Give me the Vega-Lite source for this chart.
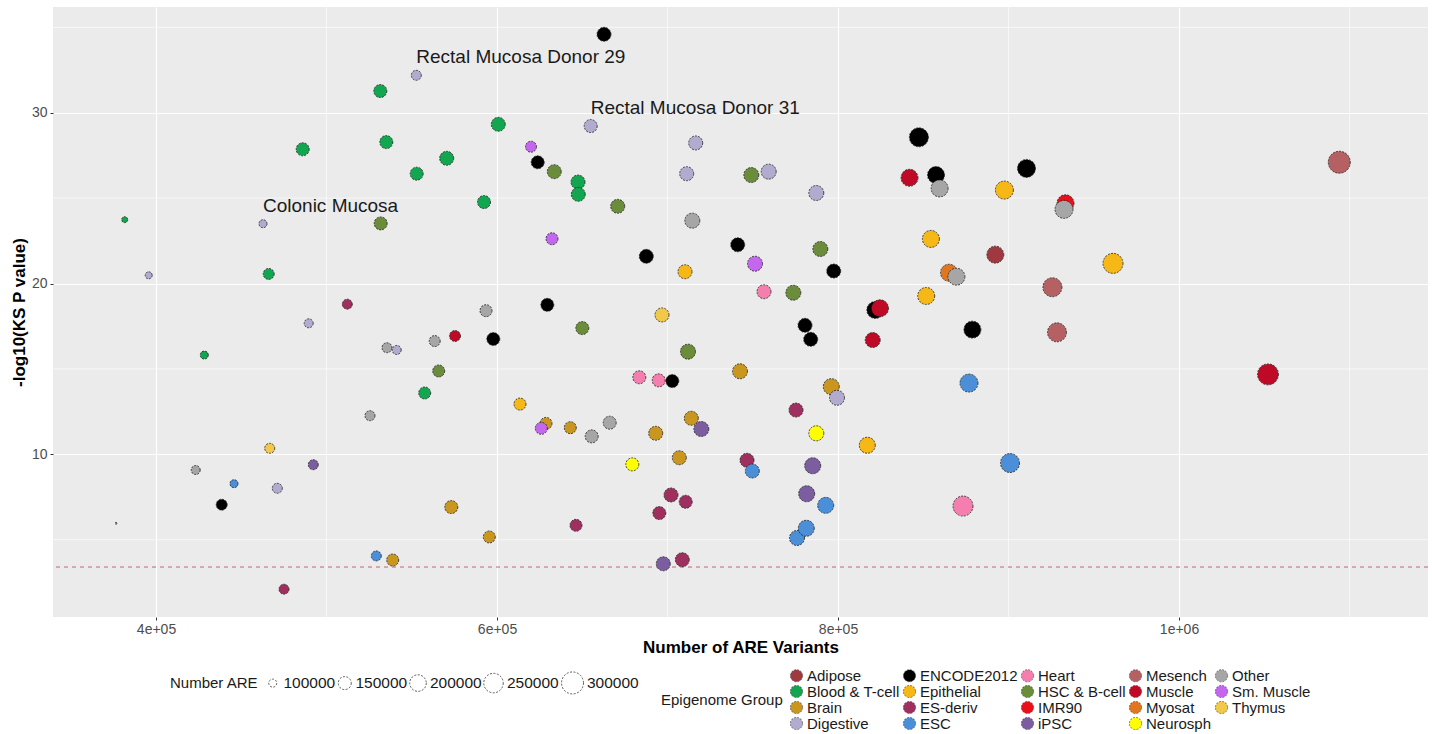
{
  "$schema": "https://vega.github.io/schema/vega-lite/v6.json",
  "width": 1375,
  "height": 610,
  "autosize": {"type": "none"},
  "padding": {"left": 53, "top": 7, "right": 4, "bottom": 117},
  "background": "white",
  "config": {
    "view": {"fill": "#EBEBEB", "stroke": null},
    "font": "Liberation Sans",
    "axis": {"domain": false, "gridColor": "white", "gridWidth": 1.2, "tickColor": "#333333", "tickSize": 3, "labelColor": "#4D4D4D", "labelFontSize": 14, "titleFontSize": 17, "titleFontWeight": "bold", "titleColor": "black"}
  },
  "datasets": {
    "pts": [
      {"variants": 376540, "logp": 5.96, "are": 71400, "group": "Other", "label": null},
      {"variants": 381643, "logp": 23.74, "are": 86636, "group": "Blood & T-cell", "label": null},
      {"variants": 395719, "logp": 20.48, "are": 92824, "group": "Digestive", "label": null},
      {"variants": 462756, "logp": 23.50, "are": 100000, "group": "Digestive", "label": "Colonic Mucosa"},
      {"variants": 466100, "logp": 20.56, "are": 127100, "group": "Blood & T-cell", "label": null},
      {"variants": 531787, "logp": 23.52, "are": 149944, "group": "HSC & B-cell", "label": null},
      {"variants": 486040, "logp": 27.86, "are": 150000, "group": "Blood & T-cell", "label": null},
      {"variants": 531552, "logp": 31.27, "are": 150000, "group": "Blood & T-cell", "label": null},
      {"variants": 552666, "logp": 32.19, "are": 117100, "group": "Digestive", "label": "Rectal Mucosa Donor 29"},
      {"variants": 535070, "logp": 28.28, "are": 150000, "group": "Blood & T-cell", "label": null},
      {"variants": 570497, "logp": 27.33, "are": 162800, "group": "Blood & T-cell", "label": null},
      {"variants": 552901, "logp": 26.43, "are": 150000, "group": "Blood & T-cell", "label": null},
      {"variants": 592372, "logp": 24.77, "are": 150000, "group": "Blood & T-cell", "label": null},
      {"variants": 512196, "logp": 18.79, "are": 117100, "group": "ES-deriv", "label": null},
      {"variants": 489560, "logp": 17.67, "are": 108056, "group": "Digestive", "label": null},
      {"variants": 428328, "logp": 15.81, "are": 100000, "group": "Blood & T-cell", "label": null},
      {"variants": 535481, "logp": 16.24, "are": 117100, "group": "Other", "label": null},
      {"variants": 541170, "logp": 16.11, "are": 108056, "group": "Digestive", "label": null},
      {"variants": 563456, "logp": 16.63, "are": 127100, "group": "Other", "label": null},
      {"variants": 575364, "logp": 16.93, "are": 127100, "group": "Muscle", "label": null},
      {"variants": 565805, "logp": 14.88, "are": 138044, "group": "HSC & B-cell", "label": null},
      {"variants": 557594, "logp": 13.59, "are": 138044, "group": "Blood & T-cell", "label": null},
      {"variants": 525511, "logp": 12.26, "are": 117100, "group": "Other", "label": null},
      {"variants": 466686, "logp": 10.35, "are": 117100, "group": "Thymus", "label": null},
      {"variants": 423284, "logp": 9.08, "are": 108056, "group": "Other", "label": null},
      {"variants": 492257, "logp": 9.39, "are": 117100, "group": "iPSC", "label": null},
      {"variants": 445747, "logp": 8.28, "are": 100000, "group": "ESC", "label": null},
      {"variants": 471143, "logp": 8.01, "are": 117100, "group": "Digestive", "label": null},
      {"variants": 438533, "logp": 7.05, "are": 127100, "group": "ENCODE2012", "label": null},
      {"variants": 573194, "logp": 6.91, "are": 150000, "group": "Brain", "label": null},
      {"variants": 529207, "logp": 4.05, "are": 117100, "group": "ESC", "label": null},
      {"variants": 538826, "logp": 3.81, "are": 138044, "group": "Brain", "label": null},
      {"variants": 475072, "logp": 2.10, "are": 117100, "group": "ES-deriv", "label": null},
      {"variants": 593545, "logp": 18.41, "are": 138044, "group": "Other", "label": null},
      {"variants": 597826, "logp": 16.75, "are": 150000, "group": "ENCODE2012", "label": null},
      {"variants": 662752, "logp": 34.59, "are": 162800, "group": "ENCODE2012", "label": null},
      {"variants": 600760, "logp": 29.32, "are": 162800, "group": "Blood & T-cell", "label": null},
      {"variants": 654951, "logp": 29.22, "are": 150000, "group": "Digestive", "label": "Rectal Mucosa Donor 31"},
      {"variants": 716533, "logp": 28.23, "are": 162800, "group": "Digestive", "label": null},
      {"variants": 619938, "logp": 28.01, "are": 127100, "group": "Sm. Muscle", "label": null},
      {"variants": 623867, "logp": 27.10, "are": 150000, "group": "ENCODE2012", "label": null},
      {"variants": 633603, "logp": 26.55, "are": 162800, "group": "HSC & B-cell", "label": null},
      {"variants": 647503, "logp": 25.94, "are": 162800, "group": "Blood & T-cell", "label": null},
      {"variants": 647679, "logp": 25.22, "are": 162800, "group": "Blood & T-cell", "label": null},
      {"variants": 670787, "logp": 24.52, "are": 162800, "group": "HSC & B-cell", "label": null},
      {"variants": 711255, "logp": 26.43, "are": 162800, "group": "Digestive", "label": null},
      {"variants": 749143, "logp": 26.35, "are": 176600, "group": "HSC & B-cell", "label": null},
      {"variants": 759348, "logp": 26.55, "are": 176600, "group": "Digestive", "label": null},
      {"variants": 787265, "logp": 25.30, "are": 176600, "group": "Digestive", "label": null},
      {"variants": 714541, "logp": 23.68, "are": 176600, "group": "Other", "label": null},
      {"variants": 632254, "logp": 22.62, "are": 138044, "group": "Sm. Muscle", "label": null},
      {"variants": 687561, "logp": 21.59, "are": 162800, "group": "ENCODE2012", "label": null},
      {"variants": 741166, "logp": 22.27, "are": 162800, "group": "ENCODE2012", "label": null},
      {"variants": 789611, "logp": 22.02, "are": 176600, "group": "HSC & B-cell", "label": null},
      {"variants": 797470, "logp": 20.73, "are": 162800, "group": "ENCODE2012", "label": null},
      {"variants": 751313, "logp": 21.16, "are": 176600, "group": "Sm. Muscle", "label": null},
      {"variants": 710259, "logp": 20.69, "are": 162800, "group": "Epithelial", "label": null},
      {"variants": 756592, "logp": 19.52, "are": 162800, "group": "Heart", "label": null},
      {"variants": 773777, "logp": 19.46, "are": 176600, "group": "HSC & B-cell", "label": null},
      {"variants": 629500, "logp": 18.75, "are": 150000, "group": "ENCODE2012", "label": null},
      {"variants": 696769, "logp": 18.16, "are": 162800, "group": "Thymus", "label": null},
      {"variants": 650025, "logp": 17.39, "are": 150000, "group": "HSC & B-cell", "label": null},
      {"variants": 712018, "logp": 16.01, "are": 176600, "group": "HSC & B-cell", "label": null},
      {"variants": 780635, "logp": 17.55, "are": 162800, "group": "ENCODE2012", "label": null},
      {"variants": 783978, "logp": 16.73, "are": 162800, "group": "ENCODE2012", "label": null},
      {"variants": 820340, "logp": 16.69, "are": 176600, "group": "Muscle", "label": null},
      {"variants": 742516, "logp": 14.86, "are": 176600, "group": "Brain", "label": null},
      {"variants": 683457, "logp": 14.51, "are": 150000, "group": "Heart", "label": null},
      {"variants": 694835, "logp": 14.33, "are": 150000, "group": "Heart", "label": null},
      {"variants": 702811, "logp": 14.29, "are": 150000, "group": "ENCODE2012", "label": null},
      {"variants": 796064, "logp": 13.96, "are": 191356, "group": "Brain", "label": null},
      {"variants": 799407, "logp": 13.31, "are": 176600, "group": "Digestive", "label": null},
      {"variants": 613486, "logp": 12.94, "are": 138044, "group": "Epithelial", "label": null},
      {"variants": 775360, "logp": 12.59, "are": 162800, "group": "ES-deriv", "label": null},
      {"variants": 628735, "logp": 11.81, "are": 138044, "group": "Brain", "label": null},
      {"variants": 625978, "logp": 11.52, "are": 138044, "group": "Sm. Muscle", "label": null},
      {"variants": 642987, "logp": 11.56, "are": 138044, "group": "Brain", "label": null},
      {"variants": 666095, "logp": 11.85, "are": 150000, "group": "Other", "label": null},
      {"variants": 655538, "logp": 11.05, "are": 150000, "group": "Other", "label": null},
      {"variants": 713962, "logp": 12.11, "are": 162800, "group": "Brain", "label": null},
      {"variants": 719827, "logp": 11.48, "are": 176600, "group": "iPSC", "label": null},
      {"variants": 693083, "logp": 11.23, "are": 162800, "group": "Brain", "label": null},
      {"variants": 787265, "logp": 11.23, "are": 176600, "group": "Neurosph", "label": null},
      {"variants": 817176, "logp": 10.53, "are": 191356, "group": "Epithelial", "label": null},
      {"variants": 679354, "logp": 9.41, "are": 150000, "group": "Neurosph", "label": null},
      {"variants": 706920, "logp": 9.80, "are": 162800, "group": "Brain", "label": null},
      {"variants": 746622, "logp": 9.65, "are": 162800, "group": "ES-deriv", "label": null},
      {"variants": 749731, "logp": 9.02, "are": 162800, "group": "ESC", "label": null},
      {"variants": 785154, "logp": 9.33, "are": 191356, "group": "iPSC", "label": null},
      {"variants": 702048, "logp": 7.62, "are": 162800, "group": "ES-deriv", "label": null},
      {"variants": 710669, "logp": 7.22, "are": 150000, "group": "ES-deriv", "label": null},
      {"variants": 695186, "logp": 6.56, "are": 150000, "group": "ES-deriv", "label": null},
      {"variants": 781630, "logp": 7.69, "are": 191356, "group": "iPSC", "label": null},
      {"variants": 792773, "logp": 7.01, "are": 191356, "group": "ESC", "label": null},
      {"variants": 646330, "logp": 5.84, "are": 138044, "group": "ES-deriv", "label": null},
      {"variants": 775941, "logp": 5.10, "are": 176600, "group": "ESC", "label": null},
      {"variants": 781395, "logp": 5.67, "are": 191356, "group": "ESC", "label": null},
      {"variants": 595479, "logp": 5.16, "are": 138044, "group": "Brain", "label": null},
      {"variants": 697532, "logp": 3.59, "are": 162800, "group": "iPSC", "label": null},
      {"variants": 708676, "logp": 3.83, "are": 162800, "group": "ES-deriv", "label": null},
      {"variants": 847441, "logp": 28.56, "are": 241336, "group": "ENCODE2012", "label": null},
      {"variants": 841928, "logp": 26.19, "are": 207064, "group": "Muscle", "label": null},
      {"variants": 857470, "logp": 26.35, "are": 207064, "group": "ENCODE2012", "label": null},
      {"variants": 859581, "logp": 25.57, "are": 207064, "group": "Other", "label": null},
      {"variants": 910548, "logp": 26.74, "are": 223724, "group": "ENCODE2012", "label": null},
      {"variants": 897587, "logp": 25.47, "are": 223724, "group": "Epithelial", "label": null},
      {"variants": 933422, "logp": 24.70, "are": 207064, "group": "IMR90", "label": null},
      {"variants": 932542, "logp": 24.34, "are": 223724, "group": "Other", "label": null},
      {"variants": 854484, "logp": 22.61, "are": 207064, "group": "Epithelial", "label": null},
      {"variants": 892253, "logp": 21.69, "are": 207064, "group": "Adipose", "label": null},
      {"variants": 961286, "logp": 21.18, "are": 259900, "group": "Epithelial", "label": null},
      {"variants": 865105, "logp": 20.63, "are": 207064, "group": "Myosat", "label": null},
      {"variants": 869445, "logp": 20.40, "are": 207064, "group": "Other", "label": null},
      {"variants": 925748, "logp": 19.78, "are": 241336, "group": "Mesench", "label": null},
      {"variants": 851723, "logp": 19.27, "are": 207064, "group": "Epithelial", "label": null},
      {"variants": 821870, "logp": 18.45, "are": 207064, "group": "ENCODE2012", "label": null},
      {"variants": 824626, "logp": 18.55, "are": 207064, "group": "Muscle", "label": null},
      {"variants": 878822, "logp": 17.30, "are": 207064, "group": "ENCODE2012", "label": null},
      {"variants": 928437, "logp": 17.14, "are": 241336, "group": "Mesench", "label": null},
      {"variants": 876814, "logp": 14.17, "are": 223724, "group": "ESC", "label": null},
      {"variants": 1052188, "logp": 14.68, "are": 279416, "group": "Muscle", "label": null},
      {"variants": 1094000, "logp": 27.10, "are": 299884, "group": "Mesench", "label": null},
      {"variants": 873306, "logp": 6.97, "are": 259900, "group": "Heart", "label": null},
      {"variants": 900871, "logp": 9.49, "are": 241336, "group": "ESC", "label": null}
    ]
  },
  "layer": [
    {
      "data": {"values": [{"v": 500000}, {"v": 700000}, {"v": 900000}, {"v": 1100000}]},
      "mark": {"type": "rule", "color": "white", "strokeWidth": 0.6},
      "encoding": {"x": {"field": "v", "type": "quantitative", "scale": {"domain": [339590, 1146030], "nice": false, "zero": false}}}
    },
    {
      "data": {"values": [{"v": 5}, {"v": 15}, {"v": 25}, {"v": 35}]},
      "mark": {"type": "rule", "color": "white", "strokeWidth": 0.6},
      "encoding": {"y": {"field": "v", "type": "quantitative", "scale": {"domain": [0.474, 36.19], "nice": false, "zero": false}}}
    },
    {
      "data": {"values": [{"v": 3.4}]},
      "mark": {"type": "rule", "color": "#C8606E", "strokeWidth": 1, "strokeDash": [4, 4]},
      "encoding": {"y": {"field": "v", "type": "quantitative"}}
    },
    {
      "data": {"name": "pts"},
      "mark": {"type": "circle", "opacity": 1, "stroke": "#1F1F1F", "strokeWidth": 0.8, "strokeDash": [2, 1.2]},
      "encoding": {
        "x": {"field": "variants", "type": "quantitative", "title": "Number of ARE Variants",
          "axis": {"values": [400000, 600000, 800000, 1000000], "labelExpr": "datum.value == 400000 ? '4e+05' : datum.value == 600000 ? '6e+05' : datum.value == 800000 ? '8e+05' : '1e+06'", "labelPadding": 2, "titlePadding": 3}},
        "y": {"field": "logp", "type": "quantitative", "title": "-log10(KS P value)",
          "axis": {"values": [10, 20, 30], "labelPadding": 3, "titlePadding": 3}},
        "size": {"field": "are", "type": "quantitative", "title": "Number ARE",
          "scale": {"domain": [100000, 300000], "range": [64, 484], "zero": false},
          "legend": {"values": [100000, 150000, 200000, 250000, 300000], "format": "d", "direction": "horizontal", "orient": "none", "legendX": 117, "legendY": 664,
            "titleOrient": "left", "titleAnchor": "middle", "titleBaseline": "middle", "titleFontSize": 15, "titleFontWeight": "normal", "titleColor": "#1A1A1A", "titlePadding": 6,
            "labelFontSize": 15.5, "labelColor": "#1A1A1A", "labelOffset": 3, "columnPadding": 0,
            "symbolFillColor": "transparent", "symbolStrokeColor": "#333333", "symbolStrokeWidth": 0.8, "symbolDash": [2, 1.5], "symbolType": "circle"}},
        "color": {"field": "group", "type": "nominal", "title": "Epigenome Group",
          "scale": {
            "domain": ["Adipose", "ENCODE2012", "Heart", "Mesench", "Other", "Blood & T-cell", "Epithelial", "HSC & B-cell", "Muscle", "Sm. Muscle", "Brain", "ES-deriv", "IMR90", "Myosat", "Thymus", "Digestive", "ESC", "iPSC", "Neurosph"],
            "range": ["#A0393F", "#000000", "#F47FAF", "#B56163", "#A6A6A6", "#12A650", "#F5B817", "#6B8C3A", "#BE0A26", "#C267EE", "#C9961F", "#9E2F5E", "#E8101A", "#E0761F", "#F2C84B", "#B3ABCF", "#4A8FD8", "#7B5DA0", "#FFFF00"]
          },
          "legend": {"orient": "none", "legendX": 608, "legendY": 661, "columns": 5, "direction": "horizontal",
            "titleOrient": "left", "titleAnchor": "middle", "titleBaseline": "middle", "titleFontSize": 15, "titleFontWeight": "normal", "titleColor": "#1A1A1A", "titlePadding": 6,
            "labelFontSize": 15, "labelColor": "#1A1A1A", "labelOffset": 3, "columnPadding": 2, "rowPadding": 0,
            "symbolSize": 150, "symbolType": "circle", "symbolStrokeColor": "#333333", "symbolStrokeWidth": 0.6, "symbolDash": [2, 1.2], "symbolOpacity": 1}}
      }
    },
    {
      "data": {"name": "pts"},
      "transform": [{"filter": "datum.label != null"}],
      "mark": {"type": "text", "align": "left", "baseline": "middle", "dy": -18, "fontSize": 19, "color": "#1A1A1A"},
      "encoding": {
        "x": {"field": "variants", "type": "quantitative"},
        "y": {"field": "logp", "type": "quantitative"},
        "text": {"field": "label"}
      }
    }
  ]
}
